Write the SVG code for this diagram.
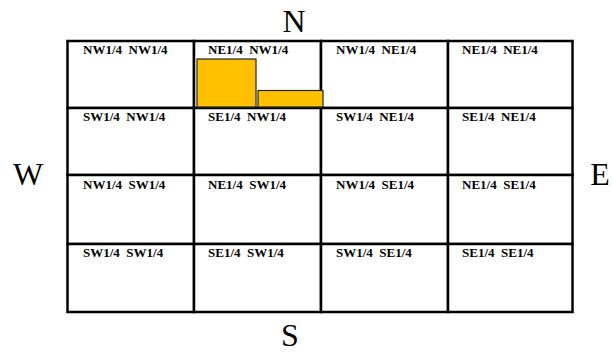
<svg xmlns="http://www.w3.org/2000/svg" width="613" height="352" viewBox="0 0 613 352">
<style>
.cell{fill:#fff;stroke:#000;stroke-width:2.5}
.lbl{font-family:"Liberation Serif","Times New Roman",serif;font-weight:bold;font-size:13px;fill:#000;white-space:pre}
.dir{font-family:"Liberation Serif","Times New Roman",serif;font-size:32px;fill:#000}
.parcel{fill:#FFC000;stroke:#222;stroke-width:1.2}
</style>
<rect width="613" height="352" fill="#fff"/>
<g id="grid" xml:space="preserve">
<g id="c-nwnw"><rect class="cell" x="67.5" y="41" width="126.5" height="67"/><text class="lbl" x="83" y="54">NW1/4  NW1/4</text></g>
<g id="c-nenw"><rect class="cell" x="194" y="41" width="127" height="67"/><text class="lbl" x="208" y="54">NE1/4  NW1/4</text></g>
<g id="c-nwne"><rect class="cell" x="321" y="41" width="127" height="67"/><text class="lbl" x="336" y="54">NW1/4  NE1/4</text></g>
<g id="c-nene"><rect class="cell" x="448" y="41" width="124.5" height="67"/><text class="lbl" x="462" y="54">NE1/4  NE1/4</text></g>
<g id="c-swnw"><rect class="cell" x="67.5" y="108" width="126.5" height="67"/><text class="lbl" x="83" y="121">SW1/4  NW1/4</text></g>
<g id="c-senw"><rect class="cell" x="194" y="108" width="127" height="67"/><text class="lbl" x="208" y="121">SE1/4  NW1/4</text></g>
<g id="c-swne"><rect class="cell" x="321" y="108" width="127" height="67"/><text class="lbl" x="336" y="121">SW1/4  NE1/4</text></g>
<g id="c-sene"><rect class="cell" x="448" y="108" width="124.5" height="67"/><text class="lbl" x="462" y="121">SE1/4  NE1/4</text></g>
<g id="c-nwsw"><rect class="cell" x="67.5" y="175" width="126.5" height="69"/><text class="lbl" x="83" y="189">NW1/4  SW1/4</text></g>
<g id="c-nesw"><rect class="cell" x="194" y="175" width="127" height="69"/><text class="lbl" x="208" y="189">NE1/4  SW1/4</text></g>
<g id="c-nwse"><rect class="cell" x="321" y="175" width="127" height="69"/><text class="lbl" x="336" y="189">NW1/4  SE1/4</text></g>
<g id="c-nese"><rect class="cell" x="448" y="175" width="124.5" height="69"/><text class="lbl" x="462" y="189">NE1/4  SE1/4</text></g>
<g id="c-swsw"><rect class="cell" x="67.5" y="244" width="126.5" height="68"/><text class="lbl" x="83" y="257">SW1/4  SW1/4</text></g>
<g id="c-sesw"><rect class="cell" x="194" y="244" width="127" height="68"/><text class="lbl" x="208" y="257">SE1/4  SW1/4</text></g>
<g id="c-swse"><rect class="cell" x="321" y="244" width="127" height="68"/><text class="lbl" x="336" y="257">SW1/4  SE1/4</text></g>
<g id="c-sese"><rect class="cell" x="448" y="244" width="124.5" height="68"/><text class="lbl" x="462" y="257">SE1/4  SE1/4</text></g>
</g>
<g id="parcels">
<rect class="parcel" x="197" y="59" width="59" height="48"/>
<rect class="parcel" x="258" y="90.5" width="65" height="16.5"/>
</g>
<g id="compass">
<text class="dir" x="294" y="32" text-anchor="middle">N</text>
<text class="dir" x="290" y="346" text-anchor="middle">S</text>
<text class="dir" x="28" y="185" text-anchor="middle">W</text>
<text class="dir" x="600" y="185" text-anchor="middle">E</text>
</g>
</svg>
